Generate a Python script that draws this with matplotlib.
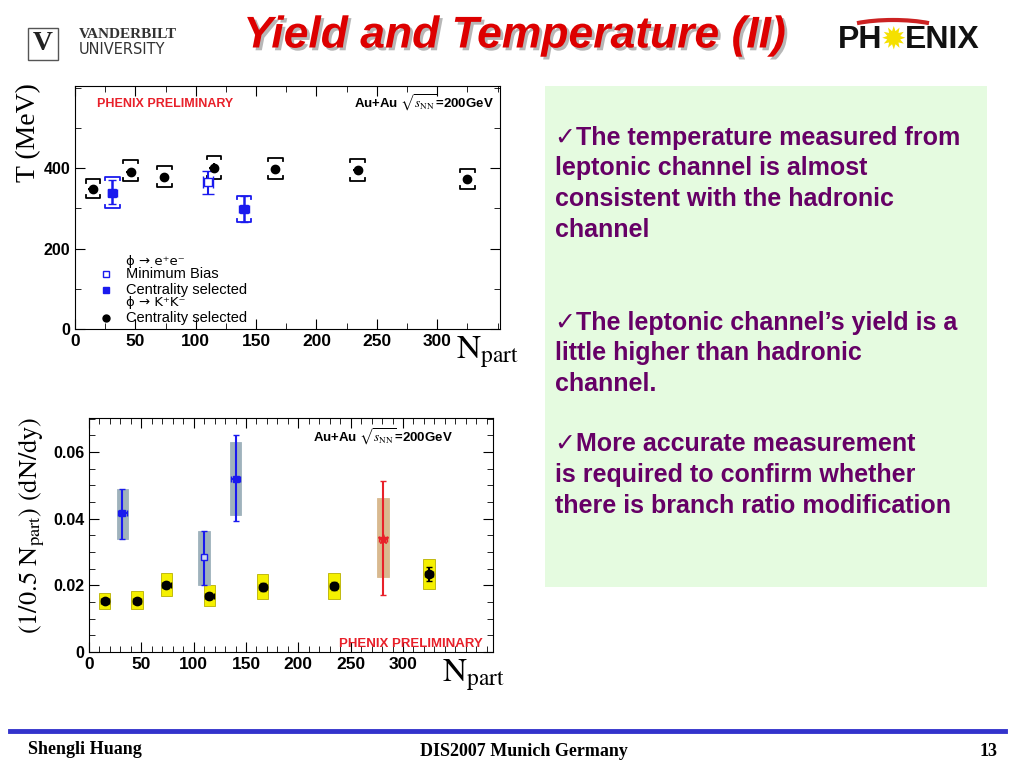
import matplotlib
matplotlib.use("Agg")
import matplotlib.pyplot as plt
import matplotlib.patheffects as pe
from matplotlib.patches import Rectangle, Arc
from matplotlib.ticker import MultipleLocator

plt.rcParams['font.family'] = ['Liberation Sans', 'DejaVu Sans']
plt.rcParams['mathtext.fontset'] = 'stix'

# ---- temperature panel data ----
kk_npart = [15, 46, 74, 115, 166, 234, 325]
kk_T = [347, 391, 377, 400, 398, 395, 373]
kk_stat = [10, 10, 10, 12, 10, 10, 10]
kk_sys_lo = [325, 368, 352, 372, 372, 368, 348]
kk_sys_hi = [372, 420, 405, 430, 425, 422, 398]

ee_cen_npart = [31, 140]
ee_cen_T = [338, 298]
ee_cen_lo = [310, 265]
ee_cen_hi = [370, 330]
ee_cen_sys_lo = [300, 265]
ee_cen_sys_hi = [378, 330]

ee_mb_npart = [110]
ee_mb_T = [365]
ee_mb_lo = [335]
ee_mb_hi = [393]

# ---- yield panel data ----
y_kk = [0.0152, 0.0153, 0.0201, 0.0168, 0.0195, 0.0198, 0.0234]
y_kk_stat = [0.0006, 0.0008, 0.0008, 0.0008, 0.0013, 0.0012, 0.0020]
y_kk_sys_lo = [0.0128, 0.0130, 0.0168, 0.0137, 0.0160, 0.0160, 0.0190]
y_kk_sys_hi = [0.0177, 0.0182, 0.0236, 0.0200, 0.0233, 0.0236, 0.0278]

y_ee_cen_npart = [32, 140]
y_ee_cen = [0.0416, 0.0520]
y_ee_cen_lo = [0.0340, 0.0393]
y_ee_cen_hi = [0.0490, 0.0650]
y_ee_cen_sys_lo = [0.0340, 0.0410]
y_ee_cen_sys_hi = [0.0490, 0.0630]

y_ee_mb_npart = [110]
y_ee_mb = [0.0285]
y_ee_mb_lo = [0.0200]
y_ee_mb_hi = [0.0363]

y_red_npart = [281]
y_red = [0.0340]
y_red_lo = [0.0172]
y_red_hi = [0.0513]
y_red_sys_lo = [0.0225]
y_red_sys_hi = [0.0462]

bullets = [
    ["\u2713The temperature measured from", "leptonic channel is almost",
     "consistent with the hadronic", "channel"],
    ["\u2713The leptonic channel\u2019s yield is a", "little higher than hadronic",
     "channel."],
    ["\u2713More accurate measurement", "is required to confirm whether",
     "there is branch ratio modification"],
]

W, H = 1024, 768
fig = plt.figure(figsize=(W / 100, H / 100), dpi=100)
fig.patch.set_facecolor('white')


def fx(px):
    return px / W


def fy(py):
    return 1 - py / H


def root_axes(rect):
    ax = fig.add_axes(rect)
    ax.tick_params(which='both', direction='in', top=True, right=True,
                   labelsize=11)
    ax.tick_params(which='major', length=7)
    ax.tick_params(which='minor', length=4)
    for s in ax.spines.values():
        s.set_linewidth(0.8)
    return ax


# ================= top panel =================
ax1 = root_axes([fx(75), fy(329), fx(425), 243 / H])
ax1.set_xlim(0, 352)
ax1.set_ylim(0, 604)
ax1.xaxis.set_minor_locator(MultipleLocator(25))
ax1.set_xticks([0, 50, 100, 150, 200, 250, 300])
ax1.set_yticks([0, 200, 400])
ax1.yaxis.set_minor_locator(MultipleLocator(100))
ax1.set_xticklabels([str(v) for v in [0, 50, 100, 150, 200, 250, 300]],
                    fontweight='bold', fontsize=12.5)
ax1.set_yticklabels(['0', '200', '400'], fontweight='bold', fontsize=11.5)

# systematic brackets
bw = 6
for x, lo, hi in zip(kk_npart, kk_sys_lo, kk_sys_hi):
    ax1.plot([x - bw, x - bw, x + bw, x + bw], [lo + 8, lo, lo, lo + 8],
             color='black', lw=1.3)
    ax1.plot([x - bw, x - bw, x + bw, x + bw], [hi - 8, hi, hi, hi - 8],
             color='black', lw=1.3)
for x, lo, hi in zip(ee_cen_npart, ee_cen_sys_lo, ee_cen_sys_hi):
    ax1.plot([x - bw, x - bw, x + bw, x + bw], [lo + 8, lo, lo, lo + 8],
             color='#1a1aee', lw=1.3)
    ax1.plot([x - bw, x - bw, x + bw, x + bw], [hi - 8, hi, hi, hi - 8],
             color='#1a1aee', lw=1.3)

ax1.errorbar(kk_npart, kk_T, yerr=kk_stat, xerr=4, fmt='o', color='black',
             ms=6, elinewidth=1.5, capsize=0)
ax1.errorbar(ee_cen_npart, ee_cen_T,
             yerr=[[t - l for t, l in zip(ee_cen_T, ee_cen_lo)],
                   [h - t for t, h in zip(ee_cen_T, ee_cen_hi)]],
             xerr=4, fmt='s', color='#1a1aee', ms=6, elinewidth=1.8, capsize=3)
ax1.errorbar(ee_mb_npart, ee_mb_T,
             yerr=[[t - l for t, l in zip(ee_mb_T, ee_mb_lo)],
                   [h - t for t, h in zip(ee_mb_T, ee_mb_hi)]],
             xerr=4, fmt='s', color='#1a1aee', mfc='white', ms=6,
             elinewidth=1.5, capsize=4)

ax1.text(0.052, 0.925, 'PHENIX PRELIMINARY', transform=ax1.transAxes,
         color='#e8202a', fontsize=9, fontweight='bold', va='center')
ax1.text(0.985, 0.93, r'Au+Au $\sqrt{s_{\mathrm{NN}}}$=200GeV',
         transform=ax1.transAxes, fontsize=9.5, fontweight='bold',
         ha='right', va='center')

# legend
leg_fs = 10.5
leg_x = 0.12
ax1.text(leg_x, 0.276, '\u03d5 \u2192 e\u207ae\u207b', transform=ax1.transAxes,
         fontsize=leg_fs - 1, va='center', family='DejaVu Sans')
ax1.text(leg_x, 0.226, 'Minimum Bias', transform=ax1.transAxes,
         fontsize=leg_fs, va='center')
ax1.plot([0.073], [0.226], 's', mfc='white', mec='#1a1aee', ms=5,
         transform=ax1.transAxes)
ax1.text(leg_x, 0.16, 'Centrality selected', transform=ax1.transAxes,
         fontsize=leg_fs, va='center')
ax1.plot([0.073], [0.16], 's', color='#1a1aee', ms=5,
         transform=ax1.transAxes)
ax1.text(leg_x, 0.107, '\u03d5 \u2192 K\u207aK\u207b', transform=ax1.transAxes,
         fontsize=leg_fs - 1, va='center', family='DejaVu Sans')
ax1.text(leg_x, 0.045, 'Centrality selected', transform=ax1.transAxes,
         fontsize=leg_fs, va='center')
ax1.plot([0.073], [0.045], 'o', color='black', ms=5, transform=ax1.transAxes)

fig.text(fx(29), fy(133), 'T (MeV)', rotation=90, family='Liberation Serif',
         fontsize=20, ha='center', va='center')
fig.text(fx(488), fy(352), r'$\mathrm{N}_{\mathrm{part}}$', fontsize=24,
         ha='center', va='center')

# ================= bottom panel =================
ax2 = root_axes([fx(89), fy(652), fx(404), 234 / H])
ax2.set_xlim(0, 386)
ax2.set_ylim(0, 0.0702)
ax2.set_xticks([0, 50, 100, 150, 200, 250, 300])
ax2.xaxis.set_minor_locator(MultipleLocator(10))
ax2.set_xticklabels([str(v) for v in [0, 50, 100, 150, 200, 250, 300]],
                    fontweight='bold', fontsize=12.5)
ax2.set_yticks([0, 0.02, 0.04, 0.06])
ax2.yaxis.set_minor_locator(MultipleLocator(0.005))
ax2.set_yticklabels(['0', '0.02', '0.04', '0.06'], fontweight='bold',
                    fontsize=11.5)

box_w = 5.5
for x, lo, hi in zip(kk_npart, y_kk_sys_lo, y_kk_sys_hi):
    ax2.add_patch(Rectangle((x - box_w, lo), 2 * box_w, hi - lo,
                            facecolor='#f5f000', edgecolor='#b8b000', lw=0.6))
for x, lo, hi in zip(y_ee_cen_npart, y_ee_cen_sys_lo, y_ee_cen_sys_hi):
    ax2.add_patch(Rectangle((x - box_w, lo), 2 * box_w, hi - lo,
                            facecolor='#9fb2bc', edgecolor='#9fb2bc', lw=0.6))
for x, lo, hi in zip(y_ee_mb_npart, y_ee_mb_lo, y_ee_mb_hi):
    ax2.add_patch(Rectangle((x - box_w, lo), 2 * box_w, hi - lo,
                            facecolor='#9fb2bc', edgecolor='#9fb2bc', lw=0.6))
for x, lo, hi in zip(y_red_npart, y_red_sys_lo, y_red_sys_hi):
    ax2.add_patch(Rectangle((x - box_w, lo), 2 * box_w, hi - lo,
                            facecolor='#d9b98f', edgecolor='#d9b98f', lw=0.6))

ax2.errorbar(kk_npart, y_kk, yerr=y_kk_stat, xerr=4, fmt='o', color='black',
             ms=6, elinewidth=1.5, capsize=2)
ax2.errorbar(y_ee_cen_npart, y_ee_cen,
             yerr=[[t - l for t, l in zip(y_ee_cen, y_ee_cen_lo)],
                   [h - t for t, h in zip(y_ee_cen, y_ee_cen_hi)]],
             xerr=4, fmt='s', color='#1a1aee', ms=5, elinewidth=1.5, capsize=2)
ax2.errorbar(y_ee_mb_npart, y_ee_mb,
             yerr=[[t - l for t, l in zip(y_ee_mb, y_ee_mb_lo)],
                   [h - t for t, h in zip(y_ee_mb, y_ee_mb_hi)]],
             fmt='s', color='#1a1aee', mfc='#cfd8f0', ms=5, elinewidth=1.5,
             capsize=2)
ax2.errorbar(y_red_npart, y_red,
             yerr=[[t - l for t, l in zip(y_red, y_red_lo)],
                   [h - t for t, h in zip(y_red, y_red_hi)]],
             xerr=4, fmt='*', color='#e8202a', ms=7, elinewidth=1.5, capsize=2)

ax2.text(0.555, 0.92, r'Au+Au $\sqrt{s_{\mathrm{NN}}}$=200GeV',
         transform=ax2.transAxes, fontsize=9.5, fontweight='bold', va='center')
ax2.text(0.975, 0.035, 'PHENIX PRELIMINARY', transform=ax2.transAxes,
         color='#e8202a', fontsize=9.5, fontweight='bold', ha='right',
         va='center')

fig.text(fx(32), fy(525), r'$(1/0.5\ \mathrm{N}_{\mathrm{part}})\ (\mathrm{dN/dy})$',
         rotation=90, fontsize=19, ha='center', va='center')
fig.text(fx(474), fy(675), r'$\mathrm{N}_{\mathrm{part}}$', fontsize=24,
         ha='center', va='center')

# ================= text panel =================
fig.patches.append(Rectangle((fx(545), fy(587)), fx(442), 501 / H,
                             transform=fig.transFigure, facecolor='#e5fbe0',
                             edgecolor='none'))
line_y = [[138, 168.5, 199, 230], [323, 353.5, 384], [444, 475, 506]]
for para, ys in zip(bullets, line_y):
    for line, yy in zip(para, ys):
        fig.text(fx(555), fy(yy), line, color='#660066', fontsize=18,
                 fontweight='bold', va='center', ha='left',
                 family=['Liberation Sans', 'DejaVu Sans'])

# ================= header =================
fig.text(fx(515), fy(36), 'Yield and Temperature (II)', color='#dd0000',
         fontsize=32, fontweight='bold', style='italic', ha='center',
         va='center',
         path_effects=[pe.SimplePatchShadow(offset=(2, -2),
                                            shadow_rgbFace='#888888',
                                            alpha=0.6), pe.Normal()])

fig.patches.append(Rectangle((fx(28), fy(60)), fx(30), 32 / H,
                             transform=fig.transFigure, facecolor='white',
                             edgecolor='#555555', lw=1))
fig.text(fx(43), fy(44), 'V', fontsize=20, fontweight='bold', ha='center',
         va='center', family='Liberation Serif', color='#222222')
fig.text(fx(79), fy(35), 'VANDERBILT', fontsize=11, fontweight='bold',
         family='Liberation Serif', va='center', color='#333333')
fig.text(fx(79), fy(49), 'UNIVERSITY', fontsize=10.5, family='DejaVu Sans',
         va='center', color='#333333')

fig.patches.append(Arc((fx(893), fy(33)), fx(110), 26 / H, theta1=20,
                       theta2=160, transform=fig.transFigure,
                       color='#cc2222', lw=3))
fig.text(fx(838), fy(40), 'PH', fontsize=23, fontweight='bold', va='center',
         ha='left', color='#111111')
fig.text(fx(905), fy(40), 'ENIX', fontsize=23, fontweight='bold', va='center',
         ha='left', color='#111111')
fig.text(fx(893), fy(40), '\u2739', fontsize=22, va='center', ha='center',
         color='#f5e000', family='DejaVu Sans')

# ================= footer =================
fig.add_artist(plt.Line2D([fx(10), fx(1005)], [fy(731), fy(731)],
                          color='#3333cc', lw=3.5))
fig.text(fx(28), fy(750), 'Shengli Huang', fontsize=13, fontweight='bold',
         family='Liberation Serif', va='center')
fig.text(fx(524), fy(751), 'DIS2007 Munich Germany', fontsize=13,
         fontweight='bold', family='Liberation Serif', va='center',
         ha='center')
fig.text(fx(998), fy(751), '13', fontsize=13, fontweight='bold',
         family='Liberation Serif', va='center', ha='right')

fig.savefig('out.png', dpi=100)
